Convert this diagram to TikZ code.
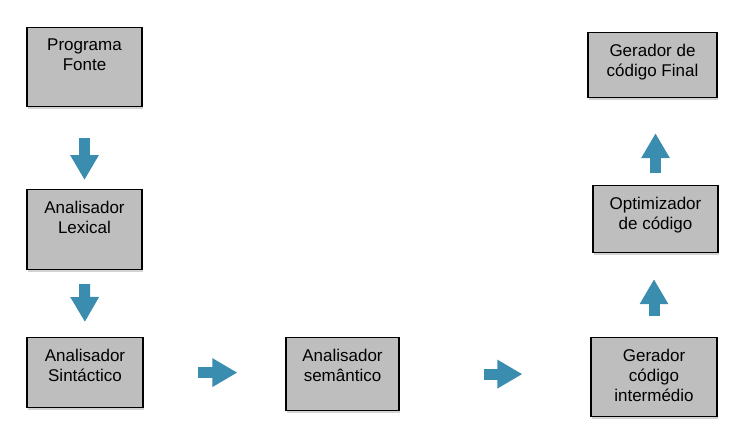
\documentclass[tikz,border=0pt]{standalone}
\usepackage{fontspec}
\setmainfont{Liberation Sans}
\definecolor{stageGray}{HTML}{BEBEBE}
\definecolor{flowBlue}{HTML}{3A8DAE}
\usetikzlibrary{arrows.meta,shadows}

\begin{document}
\begin{tikzpicture}[x=1pt, y=-1pt, font=\fontsize{17}{20}\selectfont,
  stage/.style={draw=black, line width=1.2pt, fill=stageGray, drop shadow={shadow xshift=0.5pt, shadow yshift=-2pt, opacity=0.35}, anchor=north},
  stagetext/.style={anchor=north, align=center, inner sep=0pt, yshift=-12pt},
  flow/.style={draw=flowBlue, line width=11pt, -{Triangle[length=25pt, width=27pt]}}]
\useasboundingbox (0,0) rectangle (742,445);
% left column
\node[stage, minimum width=115pt, minimum height=79pt, label={[stagetext]north:{Programa\\Fonte}}] (fonte) at (84.5,27) {};
\node[stage, minimum width=115pt, minimum height=80pt, label={[stagetext]north:{Analisador\\Lexical}}] (lexical) at (84.5,189) {};
\node[stage, minimum width=116pt, minimum height=70pt, label={[stagetext]north:{Analisador\\Sintáctico}}] (sintactico) at (85,337) {};
% bottom row
\node[stage, minimum width=113pt, minimum height=73pt, label={[stagetext]north:{Analisador\\semântico}}] (semantico) at (342.5,337) {};
\node[stage, minimum width=126pt, minimum height=79pt, label={[stagetext]north:{Gerador\\código\\intermédio}}] (intermedio) at (654,337) {};
% right column
\node[stage, minimum width=125pt, minimum height=67pt, label={[stagetext]north:{Optimizador\\de código}}] (optimizador) at (655.5,185) {};
\node[stage, minimum width=129pt, minimum height=65pt, label={[stagetext]north:{Gerador de\\código Final}}] (final) at (652.5,32) {};

\draw[flow, xshift=-3.5pt, shorten <=31pt, shorten >=9pt] (fonte.south) -- (lexical.north);
\draw[flow, xshift=-3.5pt, shorten <=14pt, shorten >=15pt] (lexical.south) -- (sintactico.north);
\draw[flow, yshift=-4pt, shorten <=54.5pt, shorten >=48pt] (sintactico.east) -- (sintactico.east -| semantico.west);
\draw[flow, yshift=3pt, shorten <=84pt, shorten >=68pt] (semantico.east) -- (semantico.east -| intermedio.west);
\draw[flow, xshift=-3.5pt, shorten <=21pt, shorten >=26pt] (intermedio.north) -- (intermedio.north |- optimizador.south);
\draw[flow, xshift=-3.5pt, shorten <=12pt, shorten >=35pt] (optimizador.north) -- (optimizador.north |- final.south);
\end{tikzpicture}
\end{document}
